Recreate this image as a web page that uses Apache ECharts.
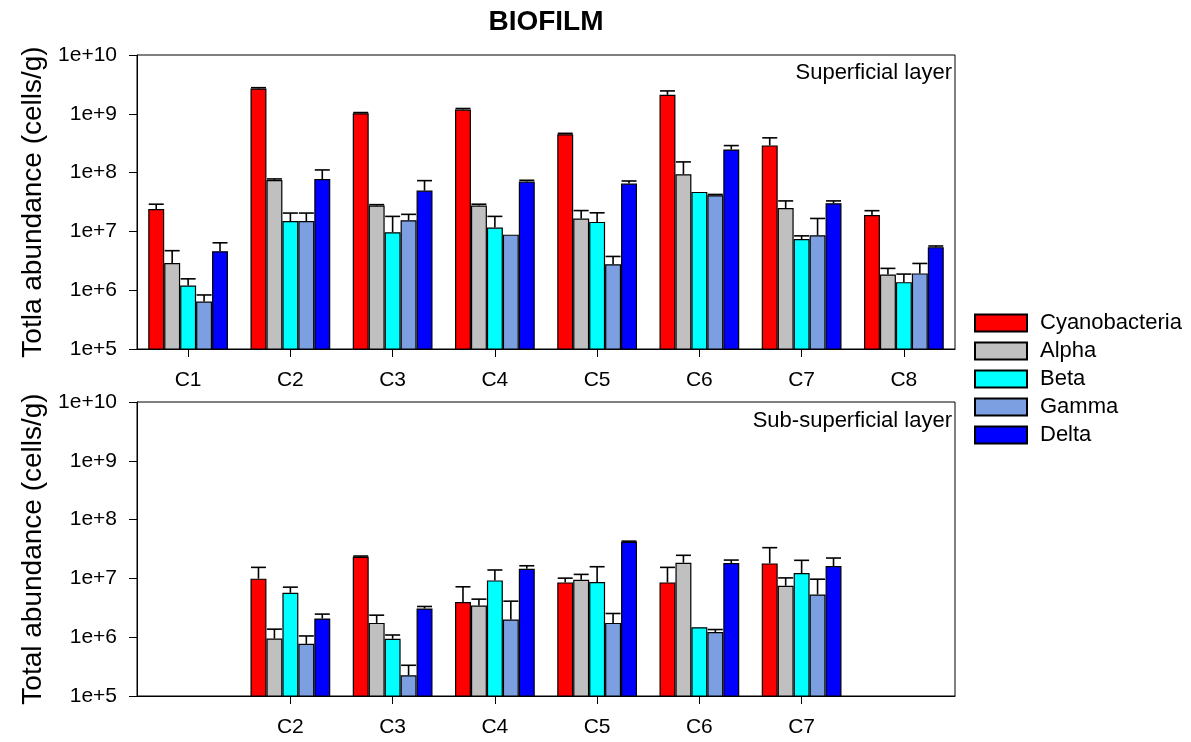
<!DOCTYPE html>
<html>
<head>
<meta charset="utf-8">
<script src="https://cdn.jsdelivr.net/npm/echarts@6/dist/echarts.min.js"></script>
<style>
html,body{margin:0;padding:0;background:#fff;}
#chart{width:1191px;height:742px;}
</style>
</head>
<body>
<div id="chart"></div>
<script>
// ---------- DATA ----------
var categories = ['C1','C2','C3','C4','C5','C6','C7','C8'];
var seriesNames = ['Cyanobacteria','Alpha','Beta','Gamma','Delta'];
var yTicks = ['1e+5','1e+6','1e+7','1e+8','1e+9','1e+10'];

// Superficial layer (means and upper end of error bar)
var supCyano   = [2.4e7, 2.7e9, 1.02e9, 1.18e9, 4.5e8, 2.1e9, 2.9e8, 1.9e7];
var supCyanoHi = [2.9e7, 2.78e9, 1.05e9, 1.23e9, 4.65e8, 2.45e9, 3.9e8, 2.25e7];
var supAlpha   = [2.9e6, 7.5e7, 2.75e7, 2.75e7, 1.66e7, 9.4e7, 2.5e7, 1.85e6];
var supAlphaHi = [4.7e6, 7.8e7, 2.85e7, 2.9e7, 2.26e7, 1.52e8, 3.3e7, 2.35e6];
var supBeta    = [1.2e6, 1.5e7, 9.7e6, 1.16e7, 1.45e7, 4.7e7, 7.4e6, 1.37e6];
var supBetaHi  = [1.56e6, 2.05e7, 1.8e7, 1.8e7, 2.07e7, 4.7e7, 8.4e6, 1.88e6];
var supGamma   = [6.4e5, 1.5e7, 1.55e7, 8.8e6, 2.77e6, 4.13e7, 8.6e6, 1.93e6];
var supGammaHi = [8.3e5, 2.05e7, 1.95e7, 8.8e6, 3.75e6, 4.25e7, 1.66e7, 2.85e6];
var supDelta   = [4.6e6, 7.8e7, 4.95e7, 7.05e7, 6.5e7, 2.47e8, 3.02e7, 5.4e6];
var supDeltaHi = [6.4e6, 1.11e8, 7.3e7, 7.4e7, 7.2e7, 2.88e8, 3.3e7, 5.65e6];

// Sub-superficial layer
var subCyano   = [null, 9.9e6, 2.34e7, 3.95e6, 8.55e6, 8.55e6, 1.8e7, null];
var subCyanoHi = [null, 1.54e7, 2.4e7, 7.2e6, 1.01e7, 1.54e7, 3.33e7, null];
var subAlpha   = [null, 9.5e5, 1.75e6, 3.46e6, 9.5e6, 1.85e7, 7.5e6, null];
var subAlphaHi = [null, 1.37e6, 2.37e6, 4.44e6, 1.17e7, 2.47e7, 1.02e7, null];
var subBeta    = [null, 5.7e6, 9.4e5, 9.25e6, 8.65e6, 1.48e6, 1.23e7, null];
var subBetaHi  = [null, 7.1e6, 1.09e6, 1.39e7, 1.58e7, 1.48e6, 2.03e7, null];
var subGamma   = [null, 7.7e5, 2.25e5, 2.0e6, 1.75e6, 1.22e6, 5.33e6, null];
var subGammaHi = [null, 1.05e6, 3.33e5, 4.1e6, 2.53e6, 1.35e6, 9.7e6, null];
var subDelta   = [null, 2.08e6, 3.08e6, 1.46e7, 4.2e7, 1.82e7, 1.62e7, null];
var subDeltaHi = [null, 2.47e6, 3.33e6, 1.64e7, 4.3e7, 2.05e7, 2.22e7, null];

var colors = ['#FF0000', '#C0C0C0', '#00FFFF', '#7B9FE0', '#0000FF'];

// ---------- CHART ----------
var FONT = 'Liberation Sans, Arial, Helvetica, sans-serif';
var CAT_GAP = 0.22;
var supVals = [supCyano, supAlpha, supBeta, supGamma, supDelta];
var supHis  = [supCyanoHi, supAlphaHi, supBetaHi, supGammaHi, supDeltaHi];
var subVals = [subCyano, subAlpha, subBeta, subGamma, subDelta];
var subHis  = [subCyanoHi, subAlphaHi, subBetaHi, subGammaHi, subDeltaHi];

function barSeries(name, vals, k, axis) {
  return {
    type: 'bar', name: name, xAxisIndex: axis, yAxisIndex: axis,
    data: vals, barGap: '0%', barCategoryGap: (CAT_GAP * 100) + '%',
    itemStyle: { color: colors[k], borderColor: '#000', borderWidth: 1.2 },
    clip: true, z: 2
  };
}
function errSeries(name, vals, his, k, axis) {
  var d = [];
  vals.forEach(function (v, i) { if (v != null && his[i] != null) d.push([i, v, his[i]]); });
  return {
    type: 'custom', name: 'err-' + name, xAxisIndex: axis, yAxisIndex: axis,
    data: d, encode: { x: 0, y: [1, 2] }, z: 5, silent: true,
    renderItem: function (params, api) {
      var ci = api.value(0), v = api.value(1), hi = api.value(2);
      var pa = api.coord([0, v]), pb = api.coord([1, v]);
      var band = pb[0] - pa[0];
      var bw = band * (1 - CAT_GAP) / 5;
      var p0 = api.coord([ci, v]);
      var p1 = api.coord([ci, hi]);
      var cx = p0[0] + (k - 2) * bw;
      if (p0[1] - p1[1] < 0.5) {
        return { type: 'group', children: [] };
      }
      var half = bw * 0.47;
      return {
        type: 'group',
        children: [
          { type: 'line', shape: { x1: cx, y1: p0[1], x2: cx, y2: p1[1] }, style: { stroke: '#000', lineWidth: 1.6 } },
          { type: 'line', shape: { x1: cx - half, y1: p1[1], x2: cx + half, y2: p1[1] }, style: { stroke: '#000', lineWidth: 1.6 } }
        ]
      };
    }
  };
}

var series = [];
seriesNames.forEach(function (n, k) { series.push(barSeries(n, supVals[k], k, 0)); });
seriesNames.forEach(function (n, k) { series.push(barSeries(n, subVals[k], k, 1)); });
seriesNames.forEach(function (n, k) { series.push(errSeries(n, supVals[k], supHis[k], k, 0)); });
seriesNames.forEach(function (n, k) { series.push(errSeries(n, subVals[k], subHis[k], k, 1)); });

function yAxis(idx, title) {
  return {
    type: 'log', logBase: 10, gridIndex: idx, min: 1e5, max: 1e10,
    name: title, nameLocation: 'middle', nameRotate: 90, nameGap: 89,
    nameTextStyle: { fontSize: 28, color: '#000', fontFamily: FONT },
    axisLine: { show: true, lineStyle: { color: '#000', width: 1 } },
    axisTick: { show: true, length: 8, lineStyle: { color: '#000' } },
    minorTick: { show: false },
    splitLine: { show: false },
    axisLabel: {
      fontSize: 21, color: '#000', fontFamily: FONT, margin: 20,
      formatter: function (v) {
        var e = Math.round(Math.log10(v));
        var lbl = '1e+' + e;
        return yTicks.indexOf(lbl) >= 0 ? lbl : '';
      }
    }
  };
}
function xAxis(idx, shown) {
  var keep = function (i, v) { return shown.indexOf(v) >= 0; };
  return {
    type: 'category', gridIndex: idx, data: categories, boundaryGap: true,
    axisLine: { show: true, lineStyle: { color: '#000', width: 1 } },
    axisTick: { show: true, alignWithLabel: true, length: 8, interval: keep, lineStyle: { color: '#000' } },
    axisLabel: {
      interval: 0, fontSize: 21, color: '#000', fontFamily: FONT, margin: 21,
      formatter: function (v) { return shown.indexOf(v) >= 0 ? v : ''; }
    },
    splitLine: { show: false }
  };
}

var chart = echarts.init(document.getElementById('chart'), null, { renderer: 'canvas' });
chart.setOption({
  backgroundColor: '#fff',
  animation: false,
  grid: [
    { left: 137, right: 236, top: 55, height: 294, show: true, borderColor: '#000', borderWidth: 1, backgroundColor: 'transparent' },
    { left: 137, right: 236, top: 402, height: 294, show: true, borderColor: '#000', borderWidth: 1, backgroundColor: 'transparent' }
  ],
  xAxis: [xAxis(0, categories), xAxis(1, ['C2','C3','C4','C5','C6','C7'])],
  yAxis: [yAxis(0, 'Totla abundance (cells/g)'), yAxis(1, 'Total abundance (cells/g)')],
  legend: {
    data: seriesNames, orient: 'vertical', left: 969, top: 307,
    itemWidth: 52, itemHeight: 17, itemGap: 6, icon: 'rect',
    textStyle: { fontSize: 22, color: '#000', fontFamily: FONT, padding: [0, 0, 0, 8] },
    selectedMode: false
  },
  graphic: [
    { type: 'text', x: 546, y: 22, style: { text: 'BIOFILM', font: 'bold 28px ' + FONT, fill: '#000', textAlign: 'center', textVerticalAlign: 'middle' } },
    { type: 'text', x: 952, y: 73, style: { text: 'Superficial layer', font: '22px ' + FONT, fill: '#000', textAlign: 'right', textVerticalAlign: 'middle' } },
    { type: 'text', x: 952, y: 421, style: { text: 'Sub-superficial layer', font: '22px ' + FONT, fill: '#000', textAlign: 'right', textVerticalAlign: 'middle' } }
  ],
  series: series
});
</script>
</body>
</html>
